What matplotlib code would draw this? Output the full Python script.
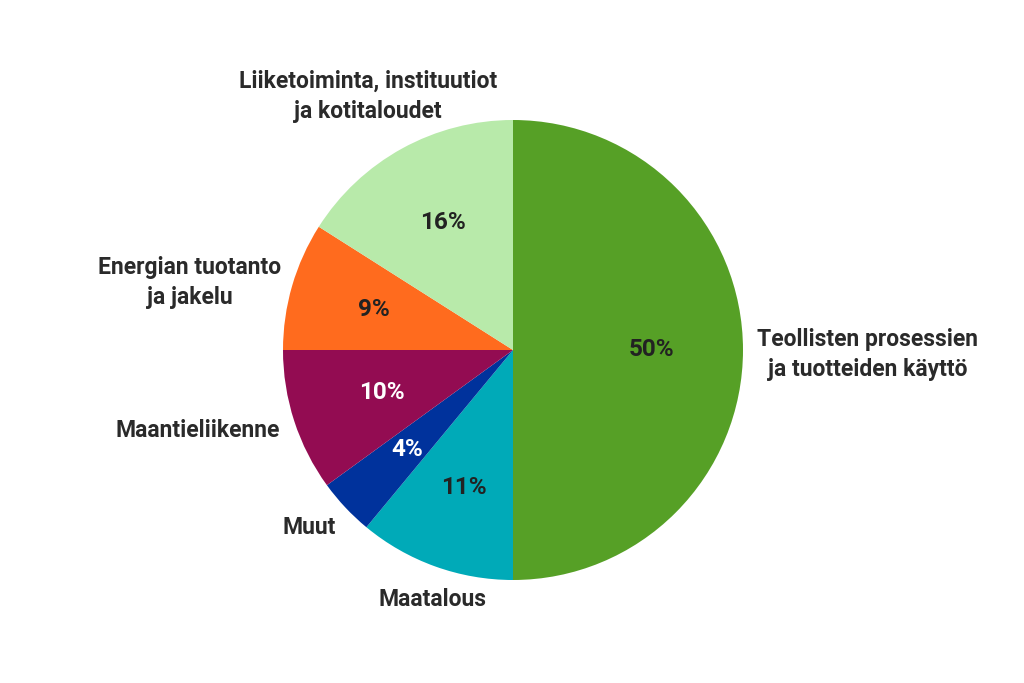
import numpy as np
import matplotlib.pyplot as plt

labels = ['Teollisten prosessien\nja tuotteiden käyttö', 'Maatalous', 'Muut',
          'Maantieliikenne', 'Energian tuotanto\nja jakelu',
          'Liiketoiminta, instituutiot\nja kotitaloudet']
shares = [50, 11, 4, 10, 9, 16]
colors = ['#56a026', '#00aab8', '#00329c', '#930c52', '#ff6b1e', '#b8eaaa']
pct_colors = ['#222222', '#222222', 'white', 'white', '#222222', '#222222']

# label placement: distance from centre (in radii), angle tweak, alignment
label_dist = [1.06, 1.14, 1.09, 1.07, 1.05, 1.27]
label_dang = [-1, 2, 2, 1, 0, 1]
label_ha = ['left', 'center', 'right', 'right', 'right', 'center']
pct_dist = [0.6, 0.635, 0.63, 0.6, 0.63, 0.635]

plt.rcParams['font.family'] = ['Roboto', 'DejaVu Sans']

fig = plt.figure(figsize=(10.24, 6.83), dpi=100)
ax = fig.add_axes([0, 0, 1, 1])

wedges, texts = ax.pie(shares, colors=colors, startangle=90, counterclock=False,
                       radius=1, center=(0, 0), labels=None,
                       wedgeprops=dict(linewidth=0))

for i, w in enumerate(wedges):
    mid = np.deg2rad((w.theta1 + w.theta2) / 2.0)
    # percentage inside
    p = pct_dist[i]
    ax.text(p * np.cos(mid), p * np.sin(mid), '{}%'.format(shares[i]),
            ha='center', va='center', fontsize=17.5, fontweight='bold',
            color=pct_colors[i])
    a = mid + np.deg2rad(label_dang[i])
    d = label_dist[i]
    ax.text(d * np.cos(a), d * np.sin(a), labels[i], ha=label_ha[i],
            va='center', multialignment='center', fontsize=16.5,
            fontweight='bold', color='#2a2a2a', linespacing=1.4)

ax.set_xlim(-513 / 230.0, (1024 - 513) / 230.0)
ax.set_ylim((350 - 683) / 230.0, 350 / 230.0)
ax.set_aspect('equal')
ax.axis('off')

fig.savefig('out.png', dpi=100, facecolor='white')
